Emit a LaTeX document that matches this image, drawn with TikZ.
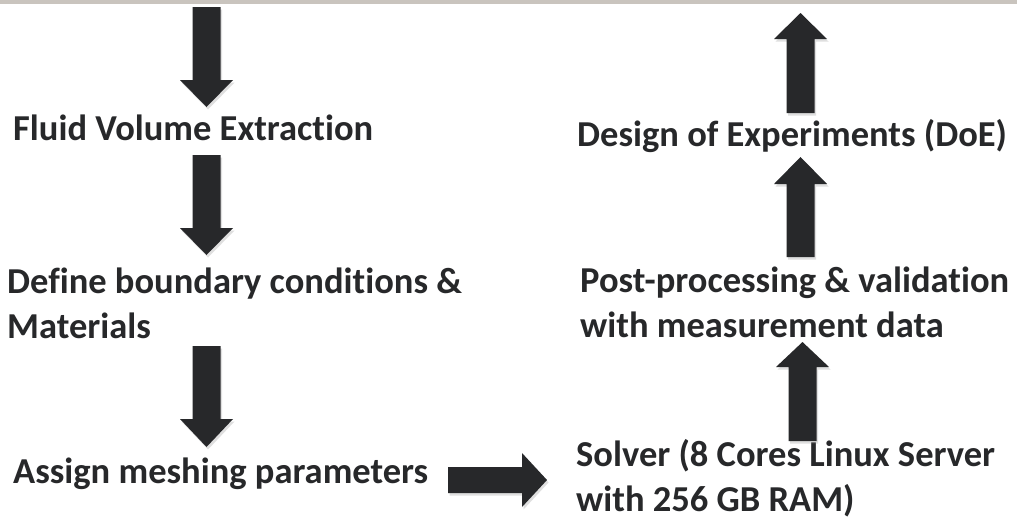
\documentclass[tikz,border=0pt]{standalone}
\usepackage{fontspec}
\setmainfont{Carlito}[Ligatures={NoCommon}]
\usetikzlibrary{shadows}
\definecolor{ink}{HTML}{27282A}
\definecolor{topbar}{HTML}{C9C4BE}
\tikzset{
  steplabel/.style={anchor=base west, inner sep=0pt, align=left, text=ink,
    font=\fontsize{36.5}{44.5}\selectfont\bfseries},
  blockarrow/.style={fill=ink, drop shadow={shadow xshift=1.5pt, shadow yshift=-2.5pt, opacity=0.25}}
}
% vertical block arrow: x centre, tail y, head base y, tip y
\newcommand{\vblock}[4]{%
  \fill[blockarrow] (#1-14,#2) -- (#1-14,#3) -- (#1-26.5,#3) -- (#1,#4)
    -- (#1+26.5,#3) -- (#1+14,#3) -- (#1+14,#2) -- cycle;}
\begin{document}
\begin{tikzpicture}[x=1pt, y=-1pt]
  \useasboundingbox (0,0) rectangle (1017,520);
  \fill[white] (0,0) rectangle (1017,520);
  \fill[topbar] (0,0) rectangle (1017,4);
  % left column (base anchor sits on the last line)
  \node[steplabel] (fluid) at (13,140) {Fluid Volume Extraction};
  \node[steplabel] (bound) at (7,338) {Define boundary conditions \&\\Materials};
  \node[steplabel] (mesh) at (13,483) {Assign meshing parameters};
  % right column
  \node[steplabel] (solver) at (576,511) {Solver (8 Cores Linux Server\\with 256 GB RAM)};
  \node[steplabel] (post) at (580,337) {Post-processing \& validation\\with measurement data};
  \node[steplabel] (doe) at (577,146) {Design of Experiments (DoE)};
  % arrows
  \vblock{206.5}{7}{80}{107}
  \vblock{206.5}{155}{228}{255}
  \vblock{206.5}{346}{419}{447}
  \fill[blockarrow] (448,467) -- (522,467) -- (522,453) -- (547,480)
    -- (522,507) -- (522,493) -- (448,493) -- cycle;
  \vblock{802.5}{441}{367}{342}
  \vblock{800.5}{257}{184}{157}
  \vblock{800.5}{113}{39}{13}
\end{tikzpicture}
\end{document}
